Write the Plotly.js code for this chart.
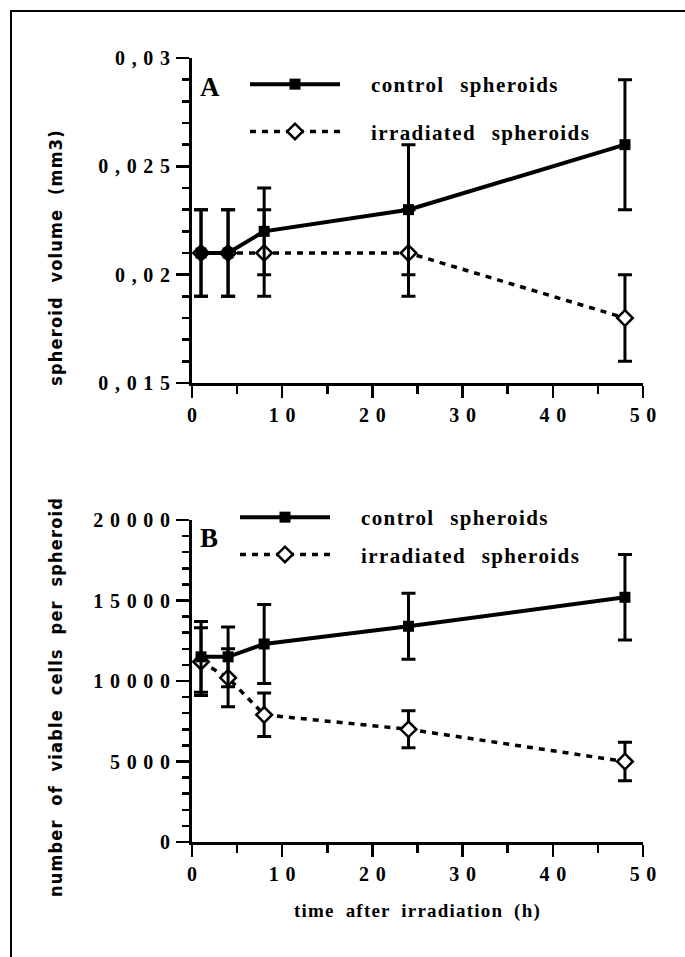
<!DOCTYPE html>
<html>
<head>
<meta charset="utf-8">
<script src="https://cdn.plot.ly/plotly-3.0.1.min.js"></script>
<style>
html,body{margin:0;padding:0;background:#fff;}
#chart{width:685px;height:957px;}
#chart .scrollbox{clip-path:none !important;}
#chart g.annotation[data-index="2"] text, #chart g.annotation[data-index="3"] text{letter-spacing:1.2px;}
#chart g.g-x2title text{letter-spacing:1.2px;word-spacing:5px;}
</style>
</head>
<body>
<div id="chart"></div>
<script>
// ---- data ----
const seriesNames = ['control spheroids', 'irradiated spheroids'];
const hours = [1, 4, 8, 24, 48];

// Panel A: spheroid volume (mm3)
const controlVolume = [0.021, 0.021, 0.022, 0.023, 0.026];
const controlVolumeErr = [0.002, 0.002, 0.002, 0.003, 0.003];
const irradVolume = [0.021, 0.021, 0.021, 0.021, 0.018];
const irradVolumeErr = [0.002, 0.002, 0.002, 0.002, 0.002];

// Panel B: number of viable cells per spheroid
const controlCells = [11500, 11500, 12300, 13400, 15200];
const controlCellsErr = [2200, 1850, 2450, 2050, 2650];
const irradCells = [11200, 10200, 7900, 7000, 5000];
const irradCellsErr = [2100, 1800, 1350, 1150, 1200];

// ticks
const xTickVals = [0, 10, 20, 30, 40, 50];
const xTickLabels = ['0', '10', '20', '30', '40', '50'];
const yATickVals = [0.015, 0.02, 0.025, 0.03];
const yATickLabels = ['0,015', '0,02', '0,025', '0,03'];
const yBTickVals = [0, 5000, 10000, 15000, 20000];
const yBTickLabels = ['0', '5000', '10000', '15000', '20000'];

// ---- helpers ----
const W = 685, H = 957;
const px = v => v / W;
const py = v => 1 - v / H;
const spaced = s => s.split('').join('\u2004');
const serif = "'Liberation Serif', 'Times New Roman', serif";
const narrow = "'DejaVu Sans Condensed', 'Liberation Sans Narrow', sans-serif";

const controlStyle = {
  mode: 'lines+markers',
  line: {color: '#000', width: 4},
  marker: {symbol: 'square', size: 11, color: '#000'},
};
const irradStyle = {
  mode: 'lines+markers',
  line: {color: '#000', width: 3.5, dash: '6px,6px'},
  marker: {symbol: 'diamond', size: 12, color: '#fff', line: {color: '#000', width: 2.5}},
};
const err = a => ({type: 'data', array: a, visible: true, color: '#000', thickness: 3, width: 7});

const traces = [
  Object.assign({}, irradStyle, {x: hours, y: irradVolume, error_y: err(irradVolumeErr), name: seriesNames[1], xaxis: 'x', yaxis: 'y', legend: 'legend', legendgroup: 'ia', legendrank: 2}),
  Object.assign({}, controlStyle, {x: hours, y: controlVolume, error_y: err(controlVolumeErr), name: seriesNames[0], xaxis: 'x', yaxis: 'y', legend: 'legend', legendgroup: 'ca', legendrank: 1}),
  Object.assign({}, irradStyle, {x: hours, y: irradCells, error_y: err(irradCellsErr), name: seriesNames[1], xaxis: 'x2', yaxis: 'y2', legend: 'legend2', legendgroup: 'ib', legendrank: 2}),
  Object.assign({}, controlStyle, {x: hours, y: controlCells, error_y: err(controlCellsErr), name: seriesNames[0], xaxis: 'x2', yaxis: 'y2', legend: 'legend2', legendgroup: 'cb', legendrank: 1}),
];

const tickFont = {family: serif, size: 20, weight: 'bold', color: '#000'};
const axisBase = {
  showgrid: false, zeroline: false, showline: true, linewidth: 3, linecolor: '#000',
  ticks: 'outside', ticklen: 12, tickwidth: 2.5, tickcolor: '#000',
  tickfont: tickFont, automargin: false, fixedrange: true,
};
const xDomain = [px(192), px(643)];
function xAxis(anchor, extra) {
  return Object.assign({}, axisBase, {
    domain: xDomain, anchor: anchor, range: [0, 50],
    tickmode: 'array', tickvals: xTickVals, ticktext: xTickLabels.map(spaced),
    minor: {tickmode: 'linear', tick0: 0, dtick: 5, ticks: 'outside', ticklen: 8, tickwidth: 2.5, tickcolor: '#000'},
  }, extra || {});
}
function yAxis(anchor, domain, range, vals, labels, minorStep) {
  return Object.assign({}, axisBase, {
    domain: domain, anchor: anchor, range: range,
    tickmode: 'array', tickvals: vals, ticktext: labels.map(spaced),
    ticklen: 13, ticklabelstandoff: 2,
    minor: {tickmode: 'linear', tick0: range[0], dtick: minorStep, ticks: 'outside', ticklen: 7, tickwidth: 2.5, tickcolor: '#000'},
  });
}

const legendBase = {
  xanchor: 'left', yanchor: 'top', bgcolor: 'rgba(0,0,0,0)', borderwidth: 0,
  font: {family: serif, size: 21, weight: 'bold', color: '#000'},
  itemwidth: 90, traceorder: 'grouped', orientation: 'v', itemclick: false, itemdoubleclick: false,
};

const layout = {
  width: W, height: H,
  margin: {l: 0, r: 0, t: 0, b: 0},
  paper_bgcolor: '#fff', plot_bgcolor: '#fff',
  showlegend: true,
  xaxis: xAxis('y'),
  yaxis: yAxis('x', [py(383), py(58)], [0.015, 0.03], yATickVals, yATickLabels, 0.001),
  xaxis2: xAxis('y2', {title: {text: 'time after irradiation (h)', font: {family: serif, size: 19, weight: 'bold', color: '#000'}, standoff: 20}}),
  yaxis2: yAxis('x2', [py(842), py(520)], [0, 20000], yBTickVals, yBTickLabels, 1000),
  legend: Object.assign({}, legendBase, {x: px(245), y: py(64), tracegroupgap: 17}),
  legend2: Object.assign({}, legendBase, {x: px(235), y: py(497), tracegroupgap: 7}),
  shapes: [
    {type: 'rect', xref: 'paper', yref: 'paper', x0: px(11), x1: 1.05, y0: -0.05, y1: py(11), line: {color: '#000', width: 2}, fillcolor: 'rgba(0,0,0,0)'},
  ],
  annotations: [
    {text: 'A', xref: 'paper', yref: 'paper', x: px(198), y: py(87), xanchor: 'left', yanchor: 'middle', showarrow: false, font: {family: serif, size: 27, weight: 'bold', color: '#000'}},
    {text: 'B', xref: 'paper', yref: 'paper', x: px(198), y: py(538), xanchor: 'left', yanchor: 'middle', showarrow: false, font: {family: serif, size: 27, weight: 'bold', color: '#000'}},
    {text: 'spheroid\u00a0\u00a0volume\u00a0\u00a0(mm3)', xref: 'paper', yref: 'paper', x: px(55), y: py(258), xanchor: 'center', yanchor: 'middle', textangle: -90, showarrow: false, font: {family: narrow, size: 18, weight: 'bold', color: '#000'}},
    {text: 'number\u00a0\u00a0of\u00a0\u00a0viable\u00a0\u00a0cells\u00a0\u00a0per\u00a0\u00a0spheroid', xref: 'paper', yref: 'paper', x: px(55), y: py(697), xanchor: 'center', yanchor: 'middle', textangle: -90, showarrow: false, font: {family: narrow, size: 18, weight: 'bold', color: '#000'}},
  ],
};

function styleLegendText(gd) {
  gd.querySelectorAll('text').forEach(t => {
    if (seriesNames.indexOf(t.textContent.trim()) >= 0 && !t.dataset.styled) {
      t.dataset.styled = '1';
      t.style.letterSpacing = '1.4px';
      t.style.wordSpacing = '9px';
      const x = parseFloat(t.getAttribute('x')) || 0;
      t.setAttribute('x', x + 26);
      t.querySelectorAll('tspan[x]').forEach(s => s.setAttribute('x', (parseFloat(s.getAttribute('x')) || 0) + 26));
      let p = t.parentNode;
      while (p && p !== gd && p.tagName !== 'svg') {
        if (p.removeAttribute) p.removeAttribute('clip-path');
        p = p.parentNode;
      }
    }
  });
}

Plotly.newPlot('chart', traces, layout, {displayModeBar: false, staticPlot: true}).then(gd => {
  styleLegendText(gd);
  setTimeout(() => styleLegendText(gd), 0);
});
</script>
</body>
</html>
